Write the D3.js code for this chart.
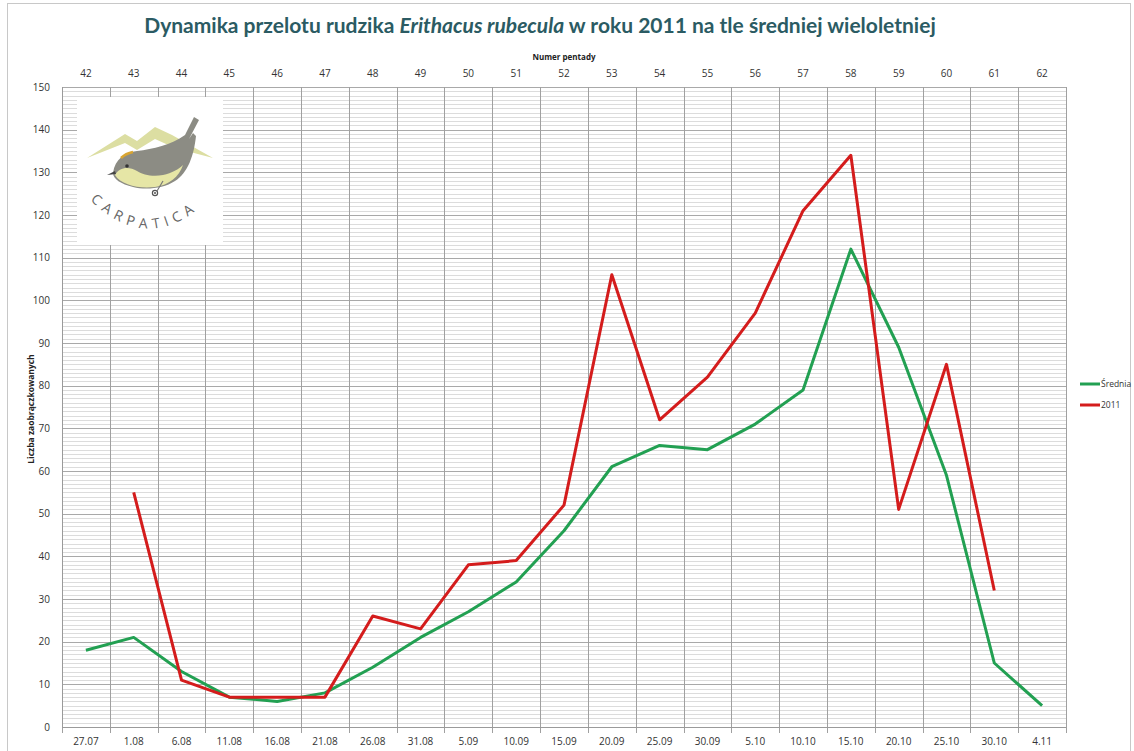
<!DOCTYPE html>
<html>
<head>
<meta charset="utf-8">
<script src="https://cdn.jsdelivr.net/npm/d3@7"></script>
<style>
  body { margin: 0; background: #fff; }
  svg { display: block; font-family: "Open Sans", "Noto Sans", sans-serif; }
</style>
</head>
<body>
<div id="chart"></div>
<script>
// dates of pentads (bottom axis) and pentad numbers (top axis)
const dates = ['27.07','1.08','6.08','11.08','16.08','21.08','26.08','31.08','5.09','10.09','15.09',
  '20.09','25.09','30.09','5.10','10.10','15.10','20.10','25.10','30.10','4.11'];
const pentads = ['42','43','44','45','46','47','48','49','50','51','52',
  '53','54','55','56','57','58','59','60','61','62'];

// srednia wieloletnia
const srednia = [18, 21, 13, 7, 6, 8, 14, 21, 27, 34, 46, 61, 66, 65, 71, 79, 112, 89, 59, 15, 5];
// rok 2011 (brak danych na poczatku i koncu)
const rok2011 = [null, 55, 11, 7, 7, 7, 26, 23, 38, 39, 52, 106, 72, 82, 97, 121, 134, 51, 85, 32, null];

const yTicks = d3.range(0, 151, 10);

const W = 1134, H = 751;
const margin = { left: 62, right: 68, top: 87, bottom: 24 };

const svg = d3.select('#chart').append('svg')
  .attr('width', W)
  .attr('height', H);

// outer frame
svg.append('rect')
  .attr('x', 7.5).attr('y', 3.5)
  .attr('width', 1123).attr('height', 760)
  .attr('fill', 'none')
  .attr('stroke', '#c8c8c8');

const x = d3.scaleBand()
  .domain(dates)
  .range([margin.left, W - margin.right]);

const y = d3.scaleLinear()
  .domain([0, 150])
  .range([H - margin.bottom, margin.top]);

const grid = svg.append('g');

// minor horizontal lines every 1
grid.selectAll('line.minor')
  .data(d3.range(1, 150).filter(d => d % 10 != 0))
  .enter().append('line')
  .attr('class', 'minor')
  .attr('x1', x.range()[0]).attr('x2', x.range()[1])
  .attr('y1', d => Math.round(y(d)) + 0.5)
  .attr('y2', d => Math.round(y(d)) + 0.5)
  .attr('stroke', '#dcdcdc')
  .attr('stroke-width', 1);

// major horizontal lines every 10
grid.selectAll('line.major')
  .data(yTicks.slice(1))
  .enter().append('line')
  .attr('class', 'major')
  .attr('x1', x.range()[0]).attr('x2', x.range()[1])
  .attr('y1', d => Math.round(y(d)) + 0.5)
  .attr('y2', d => Math.round(y(d)) + 0.5)
  .attr('stroke', '#a9a9a9')
  .attr('stroke-width', 1);

// vertical lines on category borders
const borders = dates.map(d => x(d)).concat([x.range()[1]]);
grid.selectAll('line.vert')
  .data(borders)
  .enter().append('line')
  .attr('class', 'vert')
  .attr('x1', d => Math.round(d) + 0.5)
  .attr('x2', d => Math.round(d) + 0.5)
  .attr('y1', y(150))
  .attr('y2', y(0) + 6)
  .attr('stroke', '#a0a0a0')
  .attr('stroke-width', 1);

// axis base lines
svg.append('line')
  .attr('x1', x.range()[0]).attr('x2', x.range()[1])
  .attr('y1', y(0) + 0.5).attr('y2', y(0) + 0.5)
  .attr('stroke', '#9a9a9a');
svg.append('line')
  .attr('x1', x.range()[0] + 0.5).attr('x2', x.range()[0] + 0.5)
  .attr('y1', y(150)).attr('y2', y(0))
  .attr('stroke', '#9a9a9a');

// logo (Carpatica) in the upper left corner of the plot
const logo = svg.append('g').attr('transform', 'translate(75,95)');
logo.append('rect')
  .attr('x', 2).attr('y', 2)
  .attr('width', 146).attr('height', 148)
  .attr('fill', '#fff');

// mountains
logo.append('path')
  .attr('d', 'M12,63 L50,39 L62,46 L80,32 L97,40 L138,63 L100,53 L80,44 L62,55 L50,48 Z')
  .attr('fill', '#dcdea2');
// bird body (gray)
logo.append('path')
  .attr('d', 'M38,78 C40,64 50,57 62,56 C78,54 96,50 110,40 L119,22 L124,25 L114,44 L118,38 L121,41 ' +
    'C119,60 113,78 100,86 C88,94 70,95 58,92 C46,89 38,84 38,78 Z')
  .attr('fill', '#8c8c84');
// belly (yellow)
logo.append('path')
  .attr('d', 'M40,80 C44,72 54,71 62,76 C68,80 78,82 88,80 C97,78 104,74 108,70 ' +
    'C104,82 94,90 80,92 C64,94 46,90 40,80 Z')
  .attr('fill', '#e6e6a6');
// crown stripe
logo.append('path')
  .attr('d', 'M46,63 C49,60 53,58 58,57')
  .attr('stroke', '#d9a531').attr('stroke-width', 2.5).attr('fill', 'none');
// eye and beak
logo.append('circle').attr('cx', 52).attr('cy', 71).attr('r', 1.8).attr('fill', '#333');
logo.append('path').attr('d', 'M40,76 L32,80 L41,79 Z').attr('fill', '#444');
// small stem
logo.append('circle').attr('cx', 80).attr('cy', 98).attr('r', 2.6).attr('fill', 'none')
  .attr('stroke', '#555').attr('stroke-width', 1.2);
logo.append('circle').attr('cx', 80).attr('cy', 98).attr('r', 1).attr('fill', '#555');
logo.append('path').attr('d', 'M82,96 L88,86').attr('stroke', '#777').attr('stroke-width', 1.2);

// curved text
logo.append('path')
  .attr('id', 'arc')
  .attr('d', 'M14,104 Q77,166 140,98')
  .attr('fill', 'none');
logo.append('text')
  .attr('font-size', 14)
  .attr('fill', '#666')
  .attr('letter-spacing', 5.5)
  .append('textPath')
  .attr('href', '#arc')
  .attr('startOffset', '1%')
  .text('CARPATICA');

// lines
const line = d3.line()
  .defined(d => d != null)
  .x((d, i) => x(dates[i]) + x.bandwidth() / 2)
  .y(d => y(d));

svg.append('path')
  .datum(srednia)
  .attr('fill', 'none')
  .attr('stroke', '#22a052')
  .attr('stroke-width', 3)
  .attr('stroke-linejoin', 'round')
  .attr('d', line);

svg.append('path')
  .datum(rok2011)
  .attr('fill', 'none')
  .attr('stroke', '#d41c1c')
  .attr('stroke-width', 3)
  .attr('stroke-linejoin', 'round')
  .attr('d', line);

// y labels
svg.selectAll('text.ytick')
  .data(yTicks)
  .enter().append('text')
  .attr('class', 'ytick')
  .attr('x', 50)
  .attr('y', d => y(d) + 3.5)
  .attr('text-anchor', 'end')
  .attr('font-size', 10)
  .attr('fill', '#333')
  .text(d => d);

// bottom labels
svg.selectAll('text.xtick')
  .data(dates)
  .enter().append('text')
  .attr('class', 'xtick')
  .attr('x', d => x(d) + x.bandwidth() / 2)
  .attr('y', 745)
  .attr('text-anchor', 'middle')
  .attr('font-size', 10)
  .attr('fill', '#333')
  .text(d => d);

// top labels
svg.selectAll('text.ttick')
  .data(pentads)
  .enter().append('text')
  .attr('class', 'ttick')
  .attr('x', (d, i) => x(dates[i]) + x.bandwidth() / 2)
  .attr('y', 77)
  .attr('text-anchor', 'middle')
  .attr('font-size', 10)
  .attr('fill', '#333')
  .text(d => d);

svg.append('text')
  .attr('x', (x.range()[0] + x.range()[1]) / 2)
  .attr('y', 60)
  .attr('text-anchor', 'middle')
  .attr('font-size', 8)
  .attr('font-weight', 'bold')
  .attr('fill', '#222')
  .text('Numer pentady');

// y axis title
svg.append('text')
  .attr('transform', 'translate(34,' + (y(75) + 2) + ') rotate(-90)')
  .attr('text-anchor', 'middle')
  .attr('font-size', 8.5)
  .attr('font-weight', 'bold')
  .attr('fill', '#222')
  .text('Liczba zaobrączkowanych');

// title
const title = svg.append('text')
  .attr('x', 540)
  .attr('y', 33)
  .attr('text-anchor', 'middle')
  .attr('font-family', 'Lato, "Open Sans", sans-serif')
  .attr('font-size', 21)
  .attr('font-weight', 'bold')
  .attr('fill', '#2b5b63');
title.append('tspan').text('Dynamika przelotu rudzika ');
title.append('tspan').attr('font-style', 'italic').text('Erithacus rubecula');
title.append('tspan').text(' w roku 2011 na tle średniej wieloletniej');

// legend
const legendItems = [
  { name: 'Średnia', color: '#22a052' },
  { name: '2011', color: '#d41c1c' }
];
const legend = svg.selectAll('g.legend')
  .data(legendItems)
  .enter().append('g')
  .attr('class', 'legend')
  .attr('transform', (d, i) => 'translate(1080,' + (384 + i * 21) + ')');
legend.append('line')
  .attr('x1', 0).attr('x2', 20)
  .attr('stroke', d => d.color)
  .attr('stroke-width', 3);
legend.append('text')
  .attr('x', 21)
  .attr('y', 3)
  .attr('font-size', 8.5)
  .attr('fill', '#333')
  .text(d => d.name);
</script>
</body>
</html>
